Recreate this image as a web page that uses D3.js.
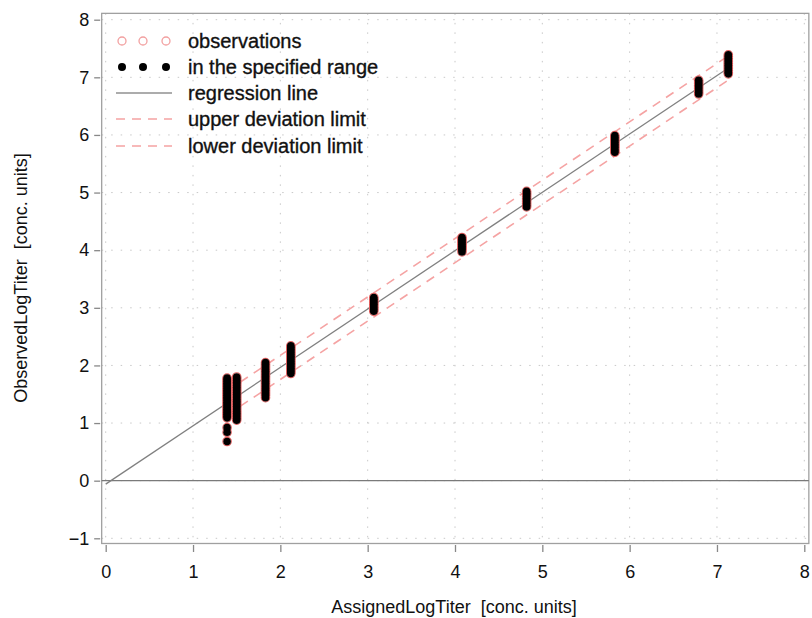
<!DOCTYPE html>
<html>
<head>
<meta charset="utf-8">
<script src="https://cdn.jsdelivr.net/npm/d3@7"></script>
<style>
  body { margin: 0; background: #fff; }
  text { font-family: "Liberation Sans", Arial, sans-serif; fill: #111; white-space: pre; }
</style>
</head>
<body>
<div id="chart"></div>
<script>
// assigned levels (x) and the observed values measured at each level (y)
const assigned = [1.39, 1.50, 1.83, 2.12, 3.07, 4.08, 4.82, 5.83, 6.79, 7.13];
const observed = [
  [1.78, 1.75, 1.72, 1.69, 1.66, 1.63, 1.60, 1.57, 1.54, 1.51, 1.48, 1.45, 1.42, 1.39, 1.36, 1.33, 1.30, 1.27, 1.24, 1.21, 1.18, 1.15, 1.12, 1.09, 0.92, 0.84, 0.68],
  [1.80, 1.77, 1.74, 1.71, 1.68, 1.65, 1.62, 1.59, 1.56, 1.53, 1.50, 1.47, 1.44, 1.41, 1.38, 1.35, 1.32, 1.29, 1.26, 1.23, 1.20, 1.17, 1.14, 1.11, 1.08, 1.05],
  [2.05, 2.02, 1.99, 1.96, 1.93, 1.90, 1.87, 1.84, 1.81, 1.78, 1.75, 1.72, 1.69, 1.66, 1.63, 1.60, 1.57, 1.54, 1.51, 1.48, 1.44],
  [2.34, 2.31, 2.28, 2.25, 2.22, 2.19, 2.16, 2.13, 2.10, 2.07, 2.04, 2.01, 1.98, 1.95, 1.92, 1.89, 1.86],
  [3.18, 3.15, 3.12, 3.09, 3.06, 3.03, 3.00, 2.97, 2.94],
  [4.22, 4.19, 4.16, 4.13, 4.10, 4.07, 4.04, 4.01, 3.97],
  [5.02, 4.99, 4.96, 4.93, 4.90, 4.87, 4.84, 4.81, 4.78, 4.75],
  [5.99, 5.96, 5.93, 5.90, 5.87, 5.84, 5.81, 5.78, 5.75, 5.72, 5.70],
  [6.95, 6.92, 6.89, 6.86, 6.83, 6.80, 6.77, 6.74, 6.71],
  [7.39, 7.36, 7.33, 7.30, 7.27, 7.24, 7.21, 7.18, 7.15, 7.12, 7.09, 7.06]
];

// regression fit and deviation band
const intercept = -0.06;
const slope = 1.013;
const deviation = 0.21;

const xTicks = [0, 1, 2, 3, 4, 5, 6, 7, 8];
const yTicks = [-1, 0, 1, 2, 3, 4, 5, 6, 7, 8];

const legendLabels = ["observations", "in the specified range", "regression line", "upper deviation limit", "lower deviation limit"];

const points = [];
assigned.forEach((a, i) => observed[i].forEach(v => points.push({x: a, y: v})));

const width = 812, height = 618;

const svg = d3.select("#chart")
  .append("svg")
    .attr("width", width)
    .attr("height", height);

const x = d3.scaleLinear().domain([0, 8]).range([105.7, 804.3]);
const y = d3.scaleLinear().domain([-1, 8]).range([538.3, 19.7]);

const frameL = x(-0.046), frameR = x(8.052), frameT = y(8.11), frameB = y(-1.09);

// dotted grid
svg.append("g")
  .selectAll("line")
  .data(xTicks)
  .join("line")
    .attr("x1", d => x(d)).attr("x2", d => x(d))
    .attr("y1", frameT).attr("y2", frameB)
    .attr("stroke", "#c8c8c8")
    .attr("stroke-dasharray", "1.5,8");
svg.append("g")
  .selectAll("line")
  .data(yTicks)
  .join("line")
    .attr("x1", frameL).attr("x2", frameR)
    .attr("y1", d => y(d)).attr("y2", d => y(d))
    .attr("stroke", "#c8c8c8")
    .attr("stroke-dasharray", "1.5,8");

// frame
svg.append("rect")
  .attr("x", frameL).attr("y", frameT)
  .attr("width", frameR - frameL).attr("height", frameB - frameT)
  .attr("fill", "none")
  .attr("stroke", "#a0a0a0")
  .attr("stroke-width", 1.3);

// zero line
svg.append("line")
  .attr("x1", frameL).attr("x2", frameR)
  .attr("y1", y(0)).attr("y2", y(0))
  .attr("stroke", "#7a7a7a")
  .attr("stroke-width", 1.2);

// axes
const xAxis = svg.append("g")
  .attr("transform", `translate(0,${frameB + 1.5})`)
  .call(d3.axisBottom(x).tickValues(xTicks).tickSize(7).tickPadding(13).tickSizeOuter(0));
const yAxis = svg.append("g")
  .attr("transform", `translate(${frameL - 1.5},0)`)
  .call(d3.axisLeft(y).tickValues(yTicks).tickSize(6).tickPadding(5).tickSizeOuter(0)
    .tickFormat(d => d < 0 ? "\u2212" + Math.abs(d) : d));
[xAxis, yAxis].forEach(g => {
  g.select(".domain").remove();
  g.selectAll(".tick line").attr("stroke", "#888").attr("stroke-width", 1.3);
  g.selectAll(".tick text").attr("font-size", 18).attr("fill", "#111")
    .style("font-family", "'Liberation Sans', Arial, sans-serif");
});

// axis titles
svg.append("text")
  .attr("x", 454).attr("y", 613)
  .attr("text-anchor", "middle")
  .attr("font-size", 18)
  .text("AssignedLogTiter  [conc. units]");
svg.append("text")
  .attr("transform", "translate(27,278) rotate(-90)")
  .attr("text-anchor", "middle")
  .attr("font-size", 18)
  .text("ObservedLogTiter  [conc. units]");

// regression line and deviation limits
const xMin = d3.min(assigned), xMax = d3.max(assigned);
const fit = v => intercept + slope * v;

svg.append("line")
  .attr("x1", x(0)).attr("y1", y(fit(0)))
  .attr("x2", x(xMax)).attr("y2", y(fit(xMax)))
  .attr("stroke", "#808080")
  .attr("stroke-width", 1.3);

[deviation, -deviation].forEach(off => {
  svg.append("line")
    .attr("x1", x(xMin)).attr("y1", y(fit(xMin) + off))
    .attr("x2", x(xMax)).attr("y2", y(fit(xMax) + off))
    .attr("stroke", "#f5a3a3")
    .attr("stroke-width", 1.6)
    .attr("stroke-dasharray", "9,7");
});

// observations (open pink) under the in-range points (filled black)
svg.append("g")
  .selectAll("circle")
  .data(points)
  .join("circle")
    .attr("cx", d => x(d.x)).attr("cy", d => y(d.y))
    .attr("r", 4.2)
    .attr("fill", "none")
    .attr("stroke", "#e06060")
    .attr("stroke-width", 1.2);
svg.append("g")
  .selectAll("circle")
  .data(points)
  .join("circle")
    .attr("cx", d => x(d.x)).attr("cy", d => y(d.y))
    .attr("r", 3.8)
    .attr("fill", "#000");

// legend
const legend = svg.append("g");
const rowY = [41, 67, 93, 119, 146];
const symX = [122, 143, 166];
legend.selectAll("text")
  .data(legendLabels)
  .join("text")
    .attr("x", 188)
    .attr("y", (d, i) => rowY[i] + 7)
    .attr("font-size", 20)
    .attr("stroke", "#111")
    .attr("stroke-width", 0.35)
    .text(d => d);
legend.selectAll(".obs")
  .data(symX)
  .join("circle")
    .attr("class", "obs")
    .attr("cx", d => d).attr("cy", rowY[0])
    .attr("r", 4)
    .attr("fill", "none")
    .attr("stroke", "#f2a0a0")
    .attr("stroke-width", 1.3);
legend.selectAll(".rng")
  .data(symX)
  .join("circle")
    .attr("class", "rng")
    .attr("cx", d => d).attr("cy", rowY[1])
    .attr("r", 4)
    .attr("fill", "#000");
legend.append("line")
  .attr("x1", 116).attr("x2", 172)
  .attr("y1", rowY[2]).attr("y2", rowY[2])
  .attr("stroke", "#909090")
  .attr("stroke-width", 1.3);
[3, 4].forEach(i => {
  legend.append("line")
    .attr("x1", 116).attr("x2", 172)
    .attr("y1", rowY[i]).attr("y2", rowY[i])
    .attr("stroke", "#f5a3a3")
    .attr("stroke-width", 1.6)
    .attr("stroke-dasharray", "9,7");
});
</script>
</body>
</html>
